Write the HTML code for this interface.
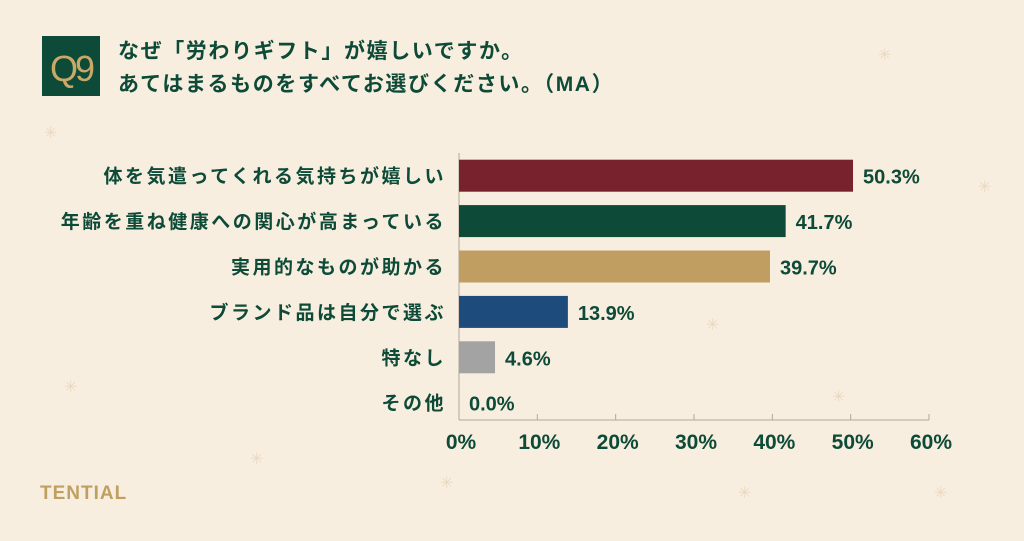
<!DOCTYPE html>
<html><head><meta charset="utf-8"><style>
body{margin:0;width:1024px;height:536px;background:#f8eee0;overflow:hidden;font-family:"Liberation Sans","Noto Sans CJK JP",sans-serif;}
</style></head><body>
<svg width="1024" height="536" xmlns="http://www.w3.org/2000/svg" font-family="Liberation Sans, Noto Sans CJK JP, sans-serif">
<rect width="1024" height="536" fill="#f8eee0"/>
<g fill="#e8d9c2" font-size="16">
<text x="44" y="138">✳</text><text x="878" y="60">✳</text><text x="978" y="192">✳</text><text x="706" y="330">✳</text><text x="832" y="402">✳</text><text x="64" y="392">✳</text><text x="250" y="464">✳</text><text x="440" y="488">✳</text><text x="738" y="498">✳</text><text x="934" y="498">✳</text>
</g>
<rect x="42" y="36" width="58" height="60" fill="#0d4a37"/>
<text x="71" y="81" text-anchor="middle" font-size="36" fill="#c9a968" letter-spacing="-3">Q9</text>
<text x="118" y="58" font-size="21" font-weight="bold" fill="#0d4a37" letter-spacing="1.6">なぜ「労わりギフト」が嬉しいですか。</text>
<text x="118" y="91" font-size="21" font-weight="bold" fill="#0d4a37" letter-spacing="1.6">あてはまるものをすべてお選びください。（MA）</text>
<text x="40" y="499" font-size="19" font-weight="bold" fill="#c0a060" letter-spacing="1">TENTIAL</text>
<g id="plot"></g>
</svg>
<script>
const categories=["体を気遣ってくれる気持ちが嬉しい","年齢を重ね健康への関心が高まっている","実用的なものが助かる","ブランド品は自分で選ぶ","特なし","その他"];
const values=[50.3,41.7,39.7,13.9,4.6,0.0];
const colors=["#77222d","#0d4a37","#c09e62","#1c4b7c","#a3a3a3","#a3a3a3"];
const ticks=[0,10,20,30,40,50,60];
const NS="http://www.w3.org/2000/svg";
const x0=459,x1=929,yTop=153,band=45.4,barH=32,base=420;
const xs=v=>x0+(v-0)/60*(x1-x0);
const g=document.getElementById('plot');
function el(t,a){const e=document.createElementNS(NS,t);for(const k in a)e.setAttribute(k,a[k]);g.appendChild(e);return e;}
let ax=el('line',{x1:x0,y1:yTop,x2:x0,y2:base,stroke:'#b0a898','stroke-width':1});


let bx=el('line',{x1:x0,y1:base,x2:x1,y2:base,stroke:'#b0a898','stroke-width':1});


ticks.forEach(t=>{
 let l=el('line',{x1:xs(t),y1:base-6,x2:xs(t),y2:base,stroke:'#b0a898'});
 
 
 let tx=el('text',{x:xs(t)+2,y:base+29,'text-anchor':'middle','font-size':21,'font-weight':'bold',fill:'#0d4a37'});
 tx.textContent=t+'%';
 
 
});
categories.forEach((c,i)=>{
 const yc=yTop+band*i+band/2;
 let lb=el('text',{x:446,y:yc+7,'text-anchor':'end','font-size':19,'font-weight':'bold',fill:'#0d4a37','letter-spacing':2.5});
 lb.textContent=c;
 
 
 const w=xs(values[i])-x0;
 if(w>0){let r=el('rect',{x:x0,y:yc-barH/2,width:w,height:barH,fill:colors[i]});
 
 }
 let v=el('text',{x:xs(values[i])+10,y:yc+8,'font-size':20,'font-weight':'bold',fill:'#0d4a37'});
 v.textContent=values[i].toFixed(1)+'%';
 
 
});
</script>
</body></html>
